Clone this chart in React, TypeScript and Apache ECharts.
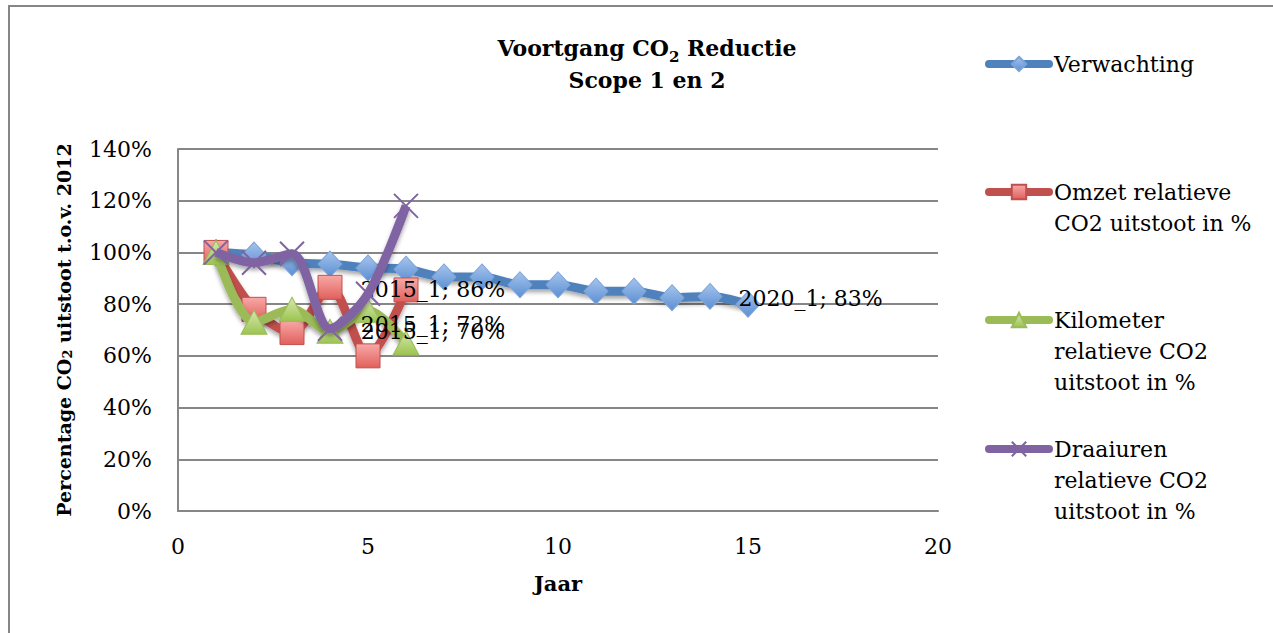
import React, { useEffect, useRef } from "react";
import * as echarts from "echarts";

const years = [1, 2, 3, 4, 5, 6, 7, 8, 9, 10, 11, 12, 13, 14, 15];
const verwachting = [1.0, 0.99, 0.96, 0.955, 0.94, 0.935, 0.905, 0.905, 0.875, 0.875, 0.85, 0.85, 0.825, 0.83, 0.80];
const omzet = [1.0, 0.78, 0.69, 0.865, 0.60, 0.855];
const kilometer = [1.0, 0.73, 0.78, 0.695, 0.775, 0.65];
const draaiuren = [1.0, 0.96, 0.995, 0.705, 0.84, 1.18];

const seriesNames = [
  "Verwachting",
  "Omzet relatieve CO2 uitstoot in %",
  "Kilometer relatieve CO2 uitstoot in %",
  "Draaiuren relatieve CO2 uitstoot in %",
];
const legendLines = [
  ["Verwachting"],
  ["Omzet relatieve", "CO2 uitstoot in %"],
  ["Kilometer", "relatieve CO2", "uitstoot in %"],
  ["Draaiuren", "relatieve CO2", "uitstoot in %"],
];
const labelTexts = ["2020_1; 83%", "2015_1; 86%", "2015_1; 72%", "2015_1; 70%"];
const yTicks = [0, 0.2, 0.4, 0.6, 0.8, 1.0, 1.2, 1.4];

const FONT = "DejaVu Serif";
const xPath = "path://M0,0L10,10M10,0L0,10";
const LH = 31;

function grad(top: string, bottom: string) {
  return new echarts.graphic.LinearGradient(0, 0, 0, 1, [
    { offset: 0, color: top },
    { offset: 1, color: bottom },
  ]);
}

export default function App() {
  const ref = useRef<HTMLDivElement>(null);
  useEffect(() => {
    if (!ref.current) return;
    const chart = echarts.init(ref.current, undefined, { renderer: "svg" });
    const pts = (vals: number[]) => vals.map((v, i) => [years[i], v]);

    const labelStyle = {
      fontFamily: FONT,
      fontSize: 22,
      color: "#000",
    };
    const shadow = {
      shadowColor: "rgba(0,0,0,0.35)",
      shadowBlur: 4,
      shadowOffsetY: 3,
    };

    const withLabel = (vals: number[], idx: number, text: string, label: any) =>
      pts(vals).map((p, i) =>
        i === idx
          ? { value: p, label: { show: true, formatter: text, ...labelStyle, ...label } }
          : { value: p }
      );

    // icon should sit at the first text line: pad the text block with empty lines above
    const legendBase = (name: string, lines: string[], iconY: number) => {
      const n = lines.length;
      const pad: string[] = [];
      for (let i = 0; i < n - 1; i++) pad.push("{e| }");
      const text = [...pad, ...lines.map((l) => "{a|" + l + "}")].join("\n");
      return {
        data: [name],
        orient: "vertical",
        left: 985,
        top: iconY - ((2 * n - 1) * LH) / 2,
        itemWidth: 60,
        itemHeight: 18,
        padding: 0,
        formatter: () => text,
        lineStyle: { width: 8, cap: "round" },
        textStyle: {
          fontFamily: FONT,
          fontSize: 22,
          color: "#000",
          lineHeight: LH,
          rich: {
            a: { fontFamily: FONT, fontSize: 22, color: "#000", lineHeight: LH },
            e: { fontFamily: FONT, fontSize: 22, color: "#000", lineHeight: LH },
          },
        },
      };
    };

    chart.setOption({
      animation: false,
      backgroundColor: "#fff",
      title: {
        text: "{b|Voortgang CO}{s|2}{b| Reductie}\n{b|Scope 1 en 2}",
        left: 642,
        top: 27,
        textAlign: "center",
        textStyle: {
          rich: {
            b: { fontFamily: FONT, fontSize: 22, fontWeight: "bold", color: "#000", lineHeight: 32 },
            s: { fontFamily: FONT, fontSize: 15, fontWeight: "bold", color: "#000", lineHeight: 32, verticalAlign: "bottom", padding: [10, 0, 0, 0] },
          },
        },
      },
      graphic: [
        {
          type: "rect",
          shape: { x: 9, y: 6, width: 1270, height: 640 },
          style: { fill: "none", stroke: "#868686", lineWidth: 2 },
          silent: true,
        },
      ],
      legend: [
        legendBase(seriesNames[0], legendLines[0], 64),
        legendBase(seriesNames[1], legendLines[1], 192),
        legendBase(seriesNames[2], legendLines[2], 320),
        legendBase(seriesNames[3], legendLines[3], 449),
      ],
      grid: { left: 178, right: 335, top: 149, bottom: 122, containLabel: false },
      xAxis: {
        type: "value",
        min: 0,
        max: 20,
        interval: 5,
        name: "Jaar",
        nameLocation: "middle",
        nameGap: 62,
        nameTextStyle: { fontFamily: FONT, fontSize: 21, fontWeight: "bold", color: "#000" },
        axisLine: { show: true, lineStyle: { color: "#868686", width: 2 } },
        axisTick: { show: false },
        splitLine: { show: false },
        axisLabel: { fontFamily: FONT, fontSize: 22, color: "#000", margin: 24 },
      },
      yAxis: {
        type: "value",
        min: 0,
        max: 1.4,
        interval: 0.2,
        name: "Percentage CO{s|2} uitstoot t.o.v. 2012",
        nameLocation: "middle",
        nameRotate: 90,
        nameGap: 104,
        nameTextStyle: {
          fontFamily: FONT,
          fontSize: 19,
          fontWeight: "bold",
          color: "#000",
          padding: [0, 0, 0, 0],
          rich: {
            s: { fontFamily: FONT, fontSize: 13, fontWeight: "bold", color: "#000", padding: [8, 0, 0, 0] },
          },
        },
        axisLine: { show: true, lineStyle: { color: "#868686", width: 2 } },
        axisTick: { show: false },
        splitLine: { show: true, lineStyle: { color: "#868686", width: 2 } },
        axisLabel: {
          fontFamily: FONT,
          fontSize: 22,
          color: "#000",
          margin: 26,
          formatter: (v: number) => {
            const t = yTicks.find((k) => Math.abs(k - v) < 1e-6);
            return Math.round((t ?? v) * 100) + "%";
          },
        },
      },
      series: [
        {
          name: seriesNames[0],
          type: "line",
          smooth: 0.3,
          data: withLabel(verwachting, 14, labelTexts[0], { position: "right", distance: 2, offset: [-24, -6] }),
          symbol: "diamond",
          symbolSize: [24, 26],
          lineStyle: { color: "#4F81BD", width: 9, ...shadow },
          itemStyle: { color: grad("#A6C4EC", "#5B8FD3"), borderColor: "#7CA3DA", borderWidth: 1 },
          z: 2,
        },
        {
          name: seriesNames[1],
          type: "line",
          smooth: 0.3,
          data: withLabel(omzet, 5, labelTexts[1], { position: "inside", offset: [27, 0] }),
          symbol: "rect",
          symbolSize: 24,
          lineStyle: { color: "#C0504D", width: 9, ...shadow },
          itemStyle: { color: grad("#F8A9A7", "#E0605C"), borderColor: "#C0504D", borderWidth: 1 },
          z: 3,
        },
        {
          name: seriesNames[2],
          type: "line",
          smooth: 0.3,
          data: withLabel(kilometer, 5, labelTexts[2], { position: "inside", offset: [27, -18] }),
          symbol: "triangle",
          symbolSize: [26, 24],
          lineStyle: { color: "#9BBB59", width: 9, ...shadow },
          itemStyle: { color: grad("#D6E8B0", "#9CC450"), borderColor: "#9BBB59", borderWidth: 1 },
          z: 4,
        },
        {
          name: seriesNames[3],
          type: "line",
          smooth: 0.3,
          data: withLabel(draaiuren, 5, labelTexts[3], { position: "inside", offset: [27, 126] }),
          symbol: xPath,
          symbolSize: 24,
          lineStyle: { color: "#8064A2", width: 9, ...shadow },
          itemStyle: { color: "rgba(0,0,0,0)", borderColor: "#8064A2", borderWidth: 2 },
          z: 5,
        },
      ],
    });
    return () => chart.dispose();
  }, []);

  return (
    <div
      ref={ref}
      style={{ position: "absolute", left: 0, top: 0, width: 1273, height: 633 }}
    />
  );
}
